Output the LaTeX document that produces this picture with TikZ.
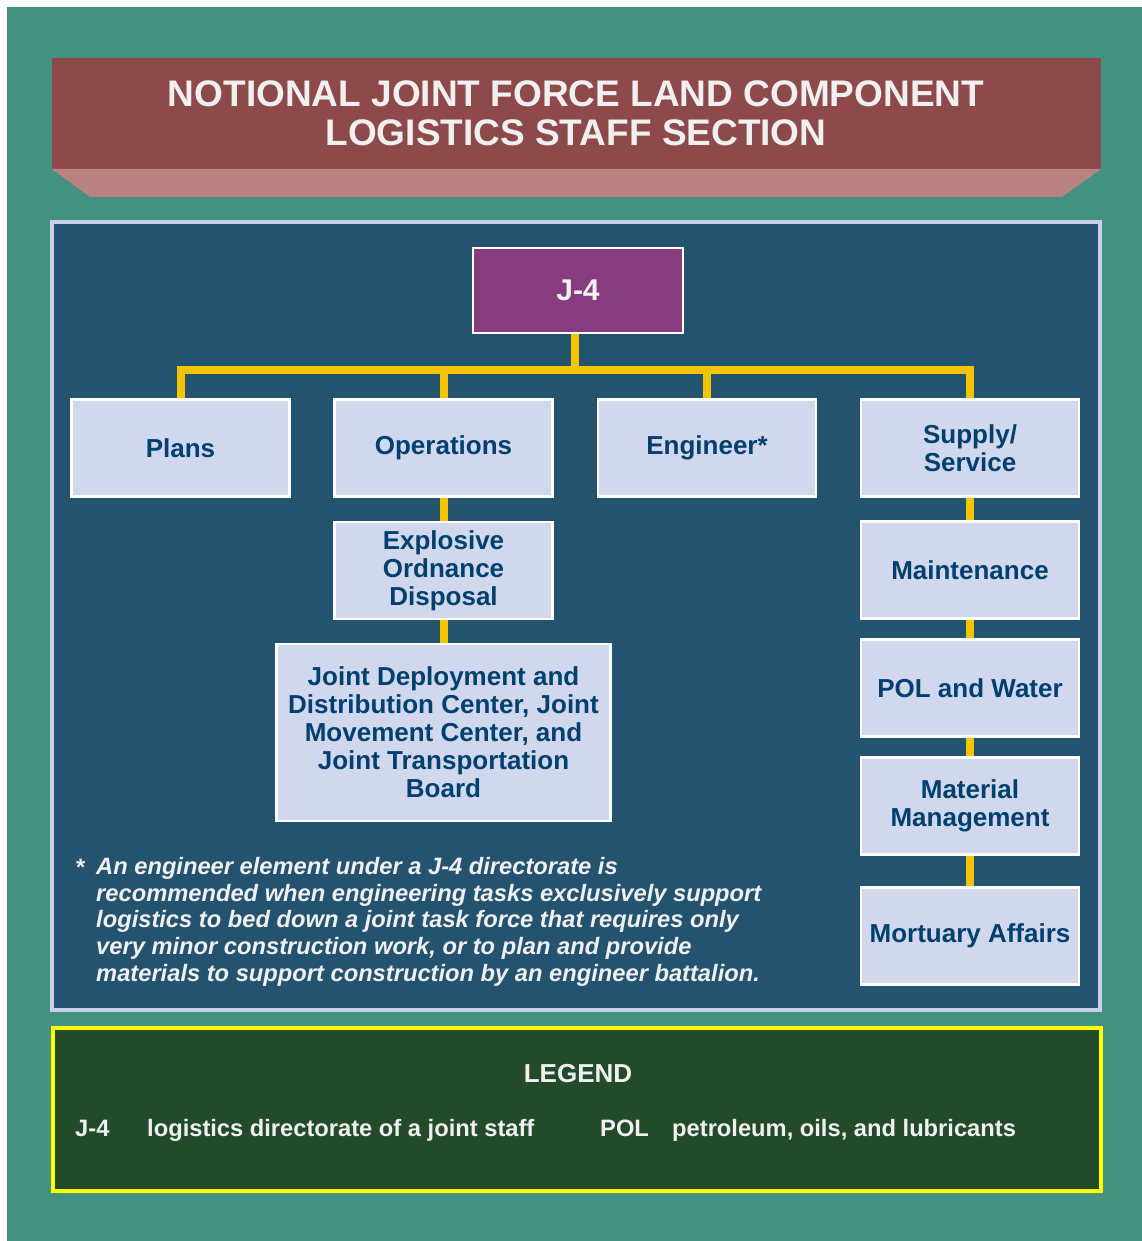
\documentclass[tikz,border=0pt]{standalone}
\usepackage{fontspec}
\setmainfont{Liberation Sans}
\definecolor{frame}{RGB}{69,145,128}
\definecolor{banner}{RGB}{142,74,74}
\definecolor{bevel}{RGB}{185,130,131}
\definecolor{panel}{RGB}{36,83,111}
\definecolor{panelrim}{RGB}{200,208,230}
\definecolor{chief}{RGB}{135,60,128}
\definecolor{cell}{RGB}{209,216,238}
\definecolor{celltext}{RGB}{0,64,110}
\definecolor{bus}{RGB}{245,196,0}
\definecolor{legendbg}{RGB}{35,75,42}
\definecolor{legendrim}{RGB}{255,255,0}
\definecolor{lighttext}{RGB}{240,240,240}
\tikzset{
    cellbox/.style={rectangle, fill=cell, draw=white, line width=2.5pt, text=celltext,
        font=\bfseries\fontsize{26}{28}\selectfont, align=center, inner sep=0pt,
        minimum width=218pt, minimum height=97pt},
    link/.style={draw=bus, line width=8pt},
    whitetext/.style={text=lighttext, font=\bfseries\fontsize{23.7}{26}\selectfont, inner sep=0pt}
}
\begin{document}
\begin{tikzpicture}[x=1pt,y=-1pt]
    \useasboundingbox (0,0) rectangle (1142,1241);
    \fill[white] (0,0) rectangle (1142,1241);
    \fill[frame] (7,7) rectangle (1142,1241);

    % Title banner
    \fill[banner] (52,58) rectangle (1101,169);
    \fill[bevel] (52,169) -- (1101,169) -- (1062,197) -- (90,197) -- cycle;
    \node[text=lighttext, font=\bfseries\fontsize{37}{39}\selectfont, align=center, inner sep=0pt]
        (title) at (576,113) {NOTIONAL JOINT FORCE LAND COMPONENT\\LOGISTICS STAFF SECTION};

    % Chart panel
    \filldraw[fill=panel, draw=panelrim, line width=4pt] (52,222) rectangle (1100,1010);

    % Boxes
    \node[cellbox, fill=chief, text=lighttext, font=\bfseries\fontsize{30}{32}\selectfont,
        minimum width=210pt, minimum height=85pt] (j4) at (578,290.5) {J-4};
    \node[cellbox] (plans) at (180.5,448) {Plans};
    \node[cellbox] (ops) at (443.5,448) {Operations};
    \node[cellbox] (eng) at (707,448) {Engineer*};
    \node[cellbox] (supply) at (970,448) {Supply/\\Service};
    \node[cellbox] (eod) at (443.5,570.5) {Explosive\\Ordnance\\Disposal};
    \node[cellbox, minimum width=334pt, minimum height=177pt] (jddc) at (443.5,732.5)
        {Joint Deployment and\\Distribution Center, Joint\\Movement Center, and\\Joint Transportation\\Board};
    \node[cellbox] (maint) at (970,570) {Maintenance};
    \node[cellbox] (pol) at (970,688) {POL and Water};
    \node[cellbox] (mat) at (970,806) {Material\\Management};
    \node[cellbox] (mort) at (970,936) {Mortuary Affairs};

    % Connectors
    \coordinate (hub) at (575,370);
    \draw[link] (j4.south -| hub) -- (hub);
    \draw[link] (plans.north) -- (plans.north |- hub) -- (supply.north |- hub) -- (supply.north);
    \foreach \b in {ops,eng} {
        \draw[link] (\b.north) -- (\b.north |- hub);
    }
    \foreach \a/\b in {ops/eod,eod/jddc,supply/maint,maint/pol,pol/mat,mat/mort} {
        \draw[link] (\a.south) -- (\b.north);
    }

    % Footnote
    \node[whitetext, font=\bfseries\itshape\fontsize{23.7}{26.7}\selectfont, anchor=base west] (star) at (75,875) {*};
    \node[whitetext, font=\bfseries\itshape\fontsize{23.7}{26.7}\selectfont, align=left, anchor=north west] (note) at (96,857)
        {An engineer element under a J-4 directorate is\\recommended when engineering tasks exclusively support\\logistics to bed down a joint task force that requires only\\very minor construction work, or to plan and provide\\materials to support construction by an engineer battalion.};

    % Legend
    \filldraw[fill=legendbg, draw=legendrim, line width=4pt] (53,1028) rectangle (1101,1191);
    \node[whitetext, font=\bfseries\fontsize{26}{28}\selectfont, anchor=base] (legend) at (578,1082) {LEGEND};
    \node[whitetext, anchor=base west] (abbr1) at (75,1136) {J-4};
    \node[whitetext, anchor=base west] (text1) at (147,1136) {logistics directorate of a joint staff};
    \node[whitetext, anchor=base west] (abbr2) at (600,1136) {POL};
    \node[whitetext, anchor=base west] (text2) at (672,1136) {petroleum, oils, and lubricants};
\end{tikzpicture}
\end{document}
